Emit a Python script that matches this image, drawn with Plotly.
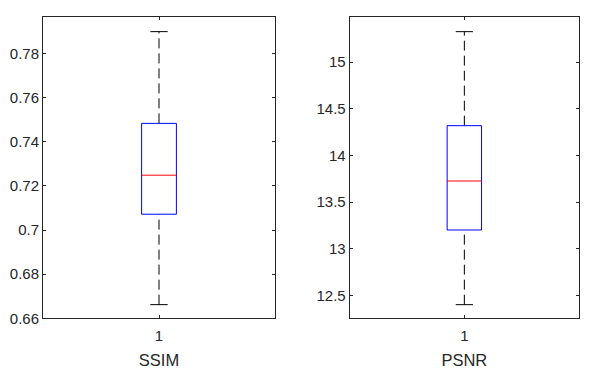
import plotly.graph_objects as go
from plotly.subplots import make_subplots

# Datos de cada boxplot
metrics = ["SSIM", "PSNR"]
lower_whisker = [0.6662, 12.40]
q1 = [0.7072, 13.20]
median = [0.7249, 13.725]
q3 = [0.7484, 14.318]
upper_whisker = [0.7900, 15.325]

y_ranges = [[0.66, 0.7965], [12.254, 15.479]]
y_ticks = [[0.66, 0.68, 0.70, 0.72, 0.74, 0.76, 0.78],
           [12.5, 13, 13.5, 14, 14.5, 15]]
y_ticktext = [["0.66", "0.68", "0.7", "0.72", "0.74", "0.76", "0.78"],
              ["12.5", "13", "13.5", "14", "14.5", "15"]]

# Estilo tipo MATLAB
half_box = 0.075
half_cap = 0.0375
axis_color = "#262626"
font_family = "Liberation Sans, Arial, Helvetica, sans-serif"

# La pagina tiene 8px de margen en el body, se compensa
W, H, OFF = 598 - 8, 382 - 8, 8

fig = make_subplots(rows=1, cols=2)

for i, name in enumerate(metrics):
    col = i + 1
    # Bigotes discontinuos
    fig.add_trace(go.Scatter(x=[1, 1], y=[q3[i], upper_whisker[i]], mode="lines",
                             line=dict(color="black", width=1, dash="10px,5px")), row=1, col=col)
    fig.add_trace(go.Scatter(x=[1, 1], y=[lower_whisker[i], q1[i]], mode="lines",
                             line=dict(color="black", width=1, dash="10px,5px")), row=1, col=col)
    # Topes
    for v in (upper_whisker[i], lower_whisker[i]):
        fig.add_trace(go.Scatter(x=[1 - half_cap, 1 + half_cap], y=[v, v], mode="lines",
                                 line=dict(color="black", width=1)), row=1, col=col)
    # Caja
    fig.add_trace(go.Scatter(x=[1 - half_box, 1 + half_box, 1 + half_box, 1 - half_box, 1 - half_box],
                             y=[q1[i], q1[i], q3[i], q3[i], q1[i]], mode="lines",
                             line=dict(color="#0000FF", width=1)), row=1, col=col)
    # Mediana
    fig.add_trace(go.Scatter(x=[1 - half_box, 1 + half_box], y=[median[i], median[i]], mode="lines",
                             line=dict(color="#FF0000", width=1)), row=1, col=col)

    fig.update_xaxes(range=[0.5, 1.5], tickvals=[1], ticktext=["1"],
                     title=dict(text=name, font=dict(size=16.5, color=axis_color), standoff=11),
                     row=1, col=col)
    fig.update_yaxes(range=y_ranges[i], tickvals=y_ticks[i], ticktext=y_ticktext[i],
                     row=1, col=col)

fig.update_xaxes(showgrid=False, zeroline=False, showline=True, mirror="ticks",
                 linecolor=axis_color, linewidth=1, ticks="inside", ticklen=3,
                 tickcolor=axis_color, tickfont=dict(size=15, color=axis_color),
                 ticklabelstandoff=4, automargin=False)
fig.update_yaxes(showgrid=False, zeroline=False, showline=True, mirror="ticks",
                 linecolor=axis_color, linewidth=1, ticks="inside", ticklen=3,
                 tickcolor=axis_color, tickfont=dict(size=15, color=axis_color),
                 automargin=False)

y_dom = [1 - (318.3 - OFF) / H, 1 - (17.3 - OFF) / H]
fig.update_layout(
    width=W, height=H,
    margin=dict(l=0, r=0, t=0, b=0, autoexpand=False),
    showlegend=False,
    plot_bgcolor="white", paper_bgcolor="white",
    font=dict(family=font_family, color=axis_color),
    xaxis=dict(domain=[(43 - OFF) / W, (275 - OFF) / W]),
    xaxis2=dict(domain=[(349.7 - OFF) / W, (579 - OFF) / W]),
    yaxis=dict(domain=y_dom),
    yaxis2=dict(domain=y_dom),
)

fig.write_html("out.html")
